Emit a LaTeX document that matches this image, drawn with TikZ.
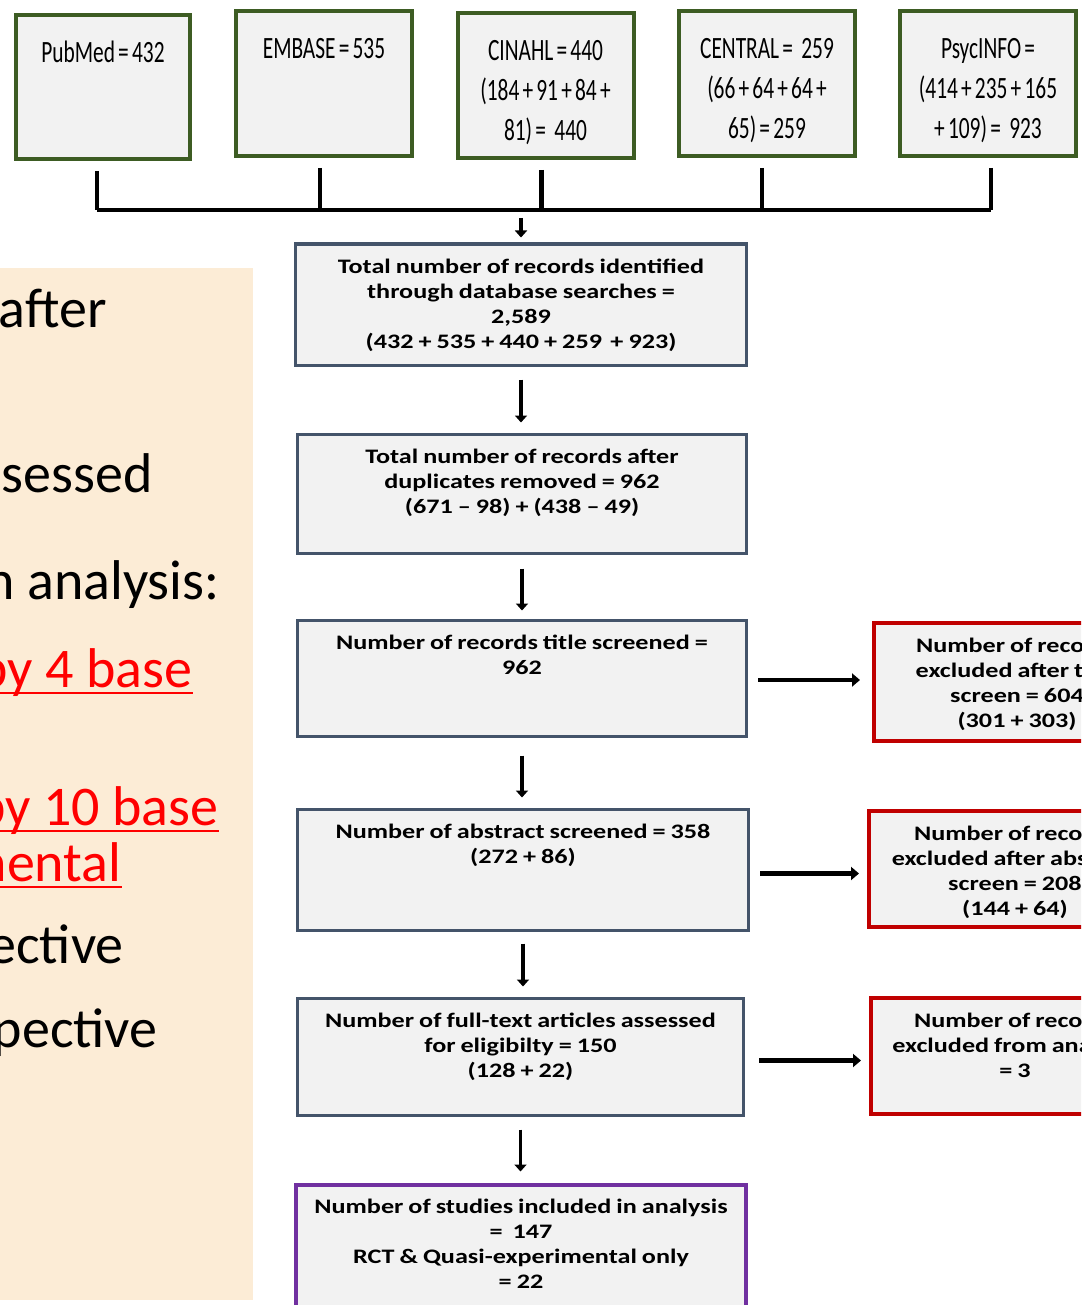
\documentclass[tikz,border=0pt]{standalone}
\usepackage{fontspec}
\setmainfont{Carlito}
\newfontfamily\dbfont[FakeStretch=0.69]{Carlito}
\newfontfamily\flowfont[FakeStretch=1.27]{Carlito}
\usetikzlibrary{arrows.meta}
\definecolor{boxgray}{HTML}{F2F2F2}
\definecolor{dbgreen}{HTML}{3D5C23}
\definecolor{slate}{HTML}{44546A}
\definecolor{exred}{HTML}{C00000}
\definecolor{finpurple}{HTML}{7030A0}
\definecolor{panel}{HTML}{FCECD6}
\definecolor{hotred}{HTML}{FF0000}
\tikzset{
    dbbox/.style={draw=dbgreen,line width=2pt,fill=boxgray,inner xsep=0pt,inner ysep=13pt,
        text width=88pt,align=flush center,anchor=north,text height=11pt,text depth=35.5pt,
        font={\dbfont\fontsize{15.5pt}{20pt}\selectfont\fontdimen2\font=1.6pt\fontdimen3\font=0pt\fontdimen4\font=0pt}},
    flow/.style={draw=slate,line width=1.5pt,fill=boxgray,inner xsep=0pt,inner ysep=6.5pt,
        text width=225pt,align=flush center,anchor=north,text height=8pt,
        font={\flowfont\bfseries\fontsize{10.3pt}{12.5pt}\selectfont\fontdimen2\font=2.5pt\fontdimen3\font=0pt\fontdimen4\font=0pt}},
    excl/.style={flow,draw=exred,line width=2pt},
    final/.style={flow,draw=finpurple,line width=2pt},
    side/.style={anchor=base east,inner sep=0pt,font={\fontsize{28pt}{33pt}\selectfont}},
    hot/.style={side,text=hotred},
    uline/.style={draw=hotred,line width=1.2pt},
    arr/.style={line width=1.9pt,-{Triangle[length=3.5pt,width=6pt]}},
    sidearr/.style={line width=2.4pt,-{Triangle[length=4pt,width=6.5pt]}},
    bus/.style={line width=2.3pt},
}
\begin{document}
\begin{tikzpicture}[x=0.5pt,y=-0.5pt]
\useasboundingbox (0,0) rectangle (1081,1305);
\clip (0,0) rectangle (1081,1305);

% notes panel on the left
\fill[panel] (0,268) rectangle (253,1300);
\node[side] (n1) at (107,327) {after};
\node[side] (n2) at (153,492) {sessed};
\node[side] (n3) at (220,599) {n analysis:};
\node[hot]  (n4) at (193,687) {by 4 base};
\node[hot]  (n5) at (219,825) {by 10 base};
\node[hot]  (n6) at (122,881) {nental};
\node[side] (n7) at (124,963) {ective};
\node[side] (n8) at (158,1047) {spective};
\foreach \n in {n4,n5,n6}
    \draw[uline] ([yshift=-3pt]\n.base west) -- ([yshift=-3pt]\n.base east);

% databases
\node[dbbox,text width=87pt,text depth=35pt] (pub) at (103,13) {PubMed = 432};
\node[dbbox] (emb) at (324,9) {EMBASE = 535};
\node[dbbox] (cin) at (545.5,11) {CINAHL = 440\\(184 + 91 + 84 +\\81) = \,440};
\node[dbbox] (cen) at (767,9) {CENTRAL = \,259\\(66 + 64 + 64 +\\65) = 259};
\node[dbbox] (psy) at (988,9) {PsycINFO =\\(414 + 235 + 165\\+ 109) = \,923};

\coordinate (bar) at (0,210);
\draw[bus] ([xshift=-3pt]pub.south |- bar) -- ([xshift=1.5pt]psy.south |- bar);
\foreach \db/\dx in {pub/-3pt,emb/-2pt,cin/-2pt,cen/-2.5pt,psy/1.5pt}
    \draw[bus] ([xshift=\dx,yshift=-5pt]\db.south) -- ([xshift=\dx]\db.south |- bar);

% main flow
\node[flow,text width=225.5pt,text depth=39.5pt] (tot) at (521,242.5)
    {Total number of records identified\\through database searches =\\2,589\\(432 + 535 + 440 + 259 \,+ 923)};
\node[flow,text width=224.5pt,text depth=38.5pt] (dup) at (522,432.5)
    {Total number of records after\\duplicates removed = 962\\(671 – 98) + (438 – 49)};
\node[flow,text width=224.5pt,text depth=37pt] (tit) at (522,618.5)
    {Number of records title screened =\\962};
\node[flow,text width=225.5pt,text depth=39.5pt] (abs) at (523,807.5)
    {Number of abstract screened = 358\\(272 + 86)};
\node[flow,text width=223pt,text depth=37.5pt] (ful) at (520.5,996.5)
    {Number of full-text articles assessed\\for eligibilty = 150\\(128 + 22)};
\node[final,text width=225pt,text depth=45pt] (inc) at (521,1182.5)
    {Number of studies included in analysis\\= \ 147\\RCT \& Quasi-experimental only\\= 22};

% exclusions
\node[excl,text width=143pt,text depth=38pt] (ex1) at (1017,621)
    {Number of reco\phantom{rds}\\excluded after t\phantom{itle}\\screen = 604\\(301 + 303)};
\node[excl,text width=146pt,text depth=37pt] (ex2) at (1015,809)
    {Number of reco\phantom{rds}\\excluded after abs\phantom{tract}\\screen = 208\\(144 + 64)};
\node[excl,text width=144pt,text depth=37pt] (ex3) at (1015,996)
    {Number of reco\phantom{rds}\\excluded from ana\phantom{lysis}\\= 3};

\draw[arr,shorten <=4pt,shorten >=2.5pt] (tot.north |- bar) -- (tot.north);
\draw[arr,shorten <=6.5pt,shorten >=5pt] (tot.south) -- (tot.south |- dup.north);
\draw[arr,shorten <=7pt,shorten >=4pt] (dup.south) -- (dup.south |- tit.north);
\draw[arr,shorten <=9pt,shorten >=5pt] (tit.south) -- (tit.south |- abs.north);
\draw[arr,shorten <=6pt,shorten >=5pt] (abs.south) -- (abs.south |- ful.north);
\draw[arr,shorten <=6.5pt,shorten >=5.5pt] (ful.south) -- (ful.south |- inc.north);
\draw[sidearr,shorten <=5pt,shorten >=6pt] ([yshift=-1pt]tit.east) -- ([yshift=-1pt]tit.east -| ex1.west);
\draw[sidearr,shorten <=5pt,shorten >=4pt] ([yshift=-2pt]abs.east) -- ([yshift=-2pt]abs.east -| ex2.west);
\draw[sidearr,shorten <=7pt,shorten >=4pt] ([yshift=-2pt]ful.east) -- ([yshift=-2pt]ful.east -| ex3.west);
\end{tikzpicture}
\end{document}
